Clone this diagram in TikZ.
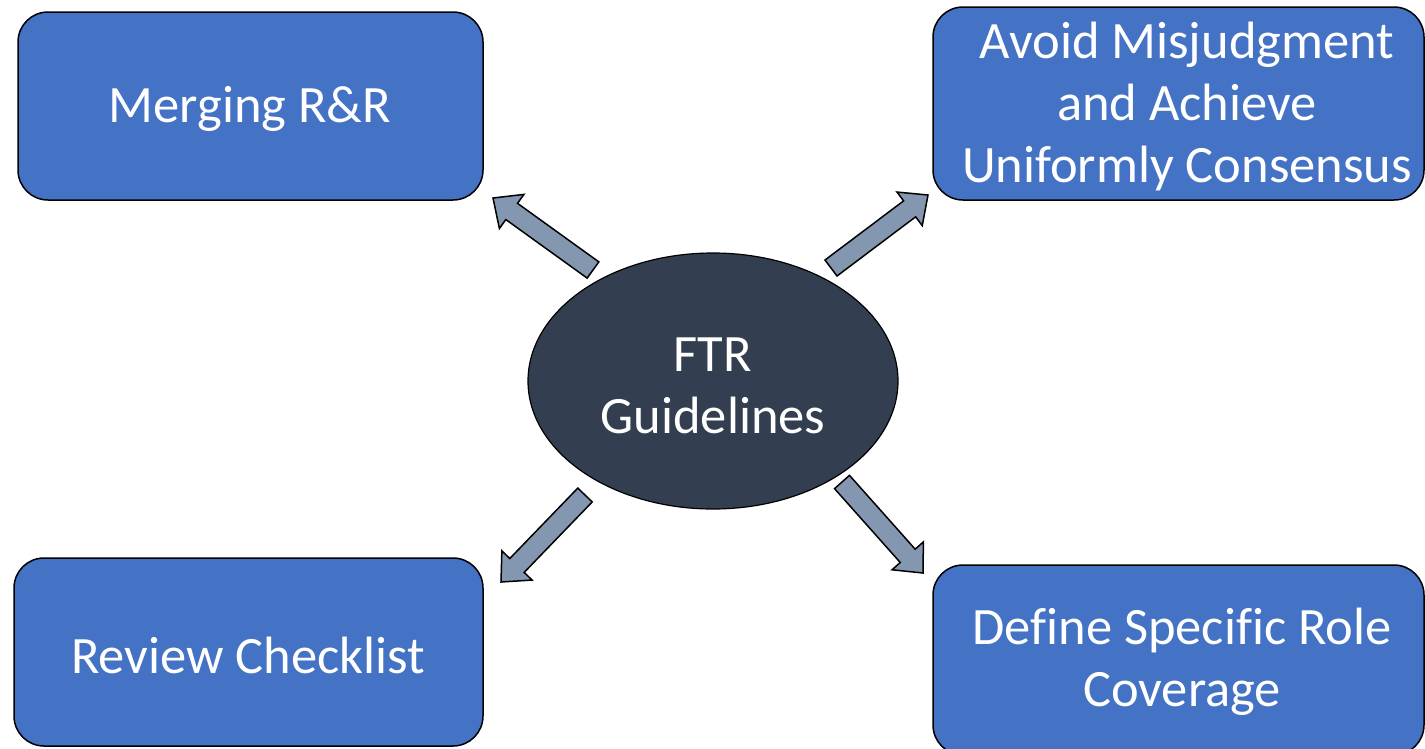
\documentclass[tikz,border=0pt]{standalone}
\usepackage{fontspec}
\setmainfont{Carlito}[Ligatures=NoCommon]
\usetikzlibrary{calc,shapes.geometric}
\definecolor{boxblue}{HTML}{4472C4}
\definecolor{hubdark}{HTML}{333F50}
\definecolor{arrowgray}{HTML}{8497B0}
\newcommand\fatarrow[2]{%
  \coordinate (#1-n) at ($(#2)!23pt!(#1)$);
  \draw[blockarr] ($(#1)!10pt!90:(#2)$) -- ($(#1-n)!10pt!90:(#2)$) -- ($(#1-n)!21pt!90:(#2)$) -- (#2)
    -- ($(#1-n)!21pt!-90:(#2)$) -- ($(#1-n)!10pt!-90:(#2)$) -- ($(#1)!10pt!-90:(#2)$) -- cycle;}
\begin{document}
\begin{tikzpicture}[x=1pt,y=-1pt,
  box/.style={draw=black, line width=1.5pt, fill=boxblue, rounded corners=30pt, inner sep=0pt},
  boxtext/.style={text=white, align=center, font=\fontsize{52.5}{62}\selectfont, inner sep=0pt},
  hub/.style={ellipse, draw=black, line width=1.2pt, fill=hubdark, inner sep=0pt},
  blockarr/.style={draw=black, line width=1.5pt, fill=arrowgray, line join=miter}]
\useasboundingbox (0,0) rectangle (1425,748);
\begin{scope}
\clip (0,0) rectangle (1425,748);
\node[box, minimum width=465pt, minimum height=188pt] (b1) at (250.5,106) {};
\node[box, minimum width=491pt, minimum height=193pt] (b2) at (1178.5,103.5) {};
\node[box, minimum width=469pt, minimum height=188pt] (b3) at (248.5,652) {};
\node[box, minimum width=491pt, minimum height=190pt] (b4) at (1178.5,660) {};
\node[hub, minimum width=370pt, minimum height=256pt] (hub) at (713,381) {};
\end{scope}
\node[boxtext] (t1) at (250,109) {Merging R\&R};
\node[boxtext] (t2) at (1187,106) {Avoid Misjudgment\\and Achieve\\Uniformly Consensus};
\node[boxtext] (t3) at (248,655) {Review Checklist};
\node[boxtext] (t4) at (1182,662) {Define Specific Role\\Coverage};
\node[boxtext] (th) at (713,386) {FTR\\Guidelines};
\coordinate (a1) at (593,270); \coordinate (a1t) at (493,198);
\coordinate (a2) at (831,268); \coordinate (a2t) at (928,195);
\coordinate (a3) at (585,495); \coordinate (a3t) at (501,582);
\coordinate (a4) at (842,482); \coordinate (a4t) at (923,573);
\fatarrow{a1}{a1t}
\fatarrow{a2}{a2t}
\fatarrow{a3}{a3t}
\fatarrow{a4}{a4t}
\end{tikzpicture}
\end{document}
